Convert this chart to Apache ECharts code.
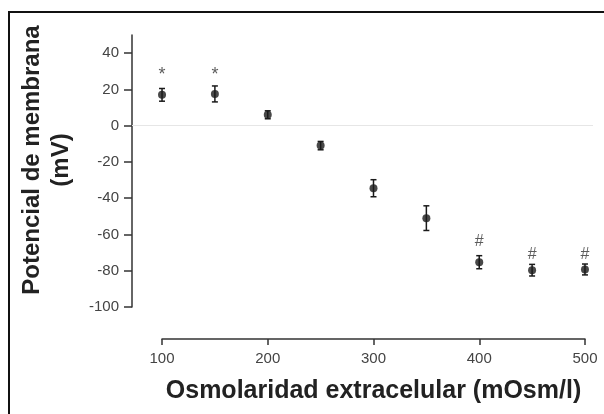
<!DOCTYPE html>
<html>
<head>
<meta charset="utf-8">
<script src="https://cdn.jsdelivr.net/npm/echarts@6/dist/echarts.min.js"></script>
<style>
  html, body { margin: 0; padding: 0; background: #fff; }
  #chart { width: 604px; height: 414px; }
</style>
</head>
<body>
<div id="chart"></div>
<script>
// osmolaridad (mOsm/l) y potencial medio +- error
const osmolarity = [100, 150, 200, 250, 300, 350, 400, 450, 500]
const potential = [17, 17.5, 6, -11, -34.5, -51, -75.3, -79.7, -79.3]
const errorSem = [3.5, 4.4, 2.2, 2.3, 4.7, 6.8, 3.6, 3.2, 3.0]

// marcas de significancia
const starX = [100, 150]
const starY = [28, 28]
const hashX = [400, 450, 500]
const hashY = [-64, -71, -71]

const yTicks = [-100, -80, -60, -40, -20, 0, 20, 40]
const xTicks = [100, 200, 300, 400, 500]

const font = 'Liberation Sans, Arial, sans-serif'
const axisColor = '#333'
const labelColor = '#444'

const chart = echarts.init(document.getElementById('chart'))

function getOption() {
  return {
    animation: false,
    backgroundColor: '#fff',
    grid: [
      { left: 132, right: 11, top: 35, bottom: 107 },
      { left: 162, right: 19, top: 35, bottom: 75 }
    ],
    xAxis: [
      {
        type: 'value',
        gridIndex: 0,
        min: 71.6,
        max: 507.6,
        show: false
      },
      {
        type: 'value',
        gridIndex: 1,
        min: 100,
        max: 500,
        interval: 100,
        position: 'bottom',
        axisLine: { show: true, lineStyle: { color: axisColor, width: 1.5 } },
        axisTick: { show: true, length: 6, lineStyle: { color: axisColor, width: 1.5 } },
        axisLabel: {
          margin: 12,
          fontSize: 15,
          fontFamily: font,
          color: labelColor,
          customValues: xTicks
        },
        splitLine: { show: false },
        name: 'Osmolaridad extracelular (mOsm/l)',
        nameLocation: 'middle',
        nameGap: 40,
        nameTextStyle: { fontSize: 25, fontWeight: 'bold', fontFamily: font, color: '#222' }
      }
    ],
    yAxis: [
      {
        type: 'value',
        gridIndex: 0,
        min: -100,
        max: 50,
        axisLine: { show: true, lineStyle: { color: axisColor, width: 1.5 } },
        axisTick: { show: true, length: 8, lineStyle: { color: axisColor, width: 1.5 }, customValues: yTicks },
        axisLabel: {
          margin: 13,
          fontSize: 15,
          fontFamily: font,
          color: labelColor,
          customValues: yTicks
        },
        splitLine: { show: false }
      },
      {
        type: 'value',
        gridIndex: 1,
        min: 0,
        max: 1,
        show: false
      }
    ],
    graphic: [
      {
        type: 'rect',
        shape: { x: 9, y: 12, width: 640, height: 440 },
        style: { fill: 'none', stroke: '#111', lineWidth: 2 },
        silent: true
      },
      {
        type: 'text',
        x: 47,
        y: 160,
        rotation: Math.PI / 2,
        style: {
          text: 'Potencial de membrana\n(mV)',
          fontSize: 24,
          fontWeight: 'bold',
          fontFamily: font,
          fill: '#222',
          align: 'center',
          verticalAlign: 'middle',
          lineHeight: 29
        }
      }
    ],
    series: [
      {
        type: 'custom',
        xAxisIndex: 0,
        yAxisIndex: 0,
        data: osmolarity.map((x, i) => [x, potential[i] - errorSem[i], potential[i] + errorSem[i]]),
        renderItem(params, api) {
          const low = api.coord([api.value(0), api.value(1)])
          const high = api.coord([api.value(0), api.value(2)])
          const cap = 3
          const style = { stroke: '#1a1a1a', lineWidth: 1.5 }
          return {
            type: 'group',
            children: [
              { type: 'line', shape: { x1: low[0], y1: low[1], x2: high[0], y2: high[1] }, style },
              { type: 'line', shape: { x1: low[0] - cap, y1: low[1], x2: low[0] + cap, y2: low[1] }, style },
              { type: 'line', shape: { x1: high[0] - cap, y1: high[1], x2: high[0] + cap, y2: high[1] }, style }
            ]
          }
        },
        z: 3
      },
      {
        type: 'scatter',
        xAxisIndex: 0,
        yAxisIndex: 0,
        symbol: 'circle',
        symbolSize: 8,
        itemStyle: { color: '#1a1a1a' },
        data: osmolarity.map((x, i) => [x, potential[i]]),
        markLine: {
          silent: true,
          symbol: 'none',
          label: { show: false },
          lineStyle: { color: '#e6e6e6', type: 'solid', width: 1 },
          data: [{ yAxis: 0 }]
        },
        z: 4
      },
      {
        type: 'scatter',
        xAxisIndex: 0,
        yAxisIndex: 0,
        symbolSize: 0,
        data: starX.map((x, i) => [x, starY[i]]),
        label: {
          show: true,
          position: 'inside',
          formatter: '*',
          fontSize: 18,
          fontFamily: font,
          color: '#333'
        }
      },
      {
        type: 'scatter',
        xAxisIndex: 0,
        yAxisIndex: 0,
        symbolSize: 0,
        data: hashX.map((x, i) => [x, hashY[i]]),
        label: {
          show: true,
          position: 'inside',
          formatter: '#',
          fontSize: 16,
          fontFamily: font,
          color: '#333'
        }
      }
    ]
  }
}

chart.setOption(getOption())
</script>
</body>
</html>
